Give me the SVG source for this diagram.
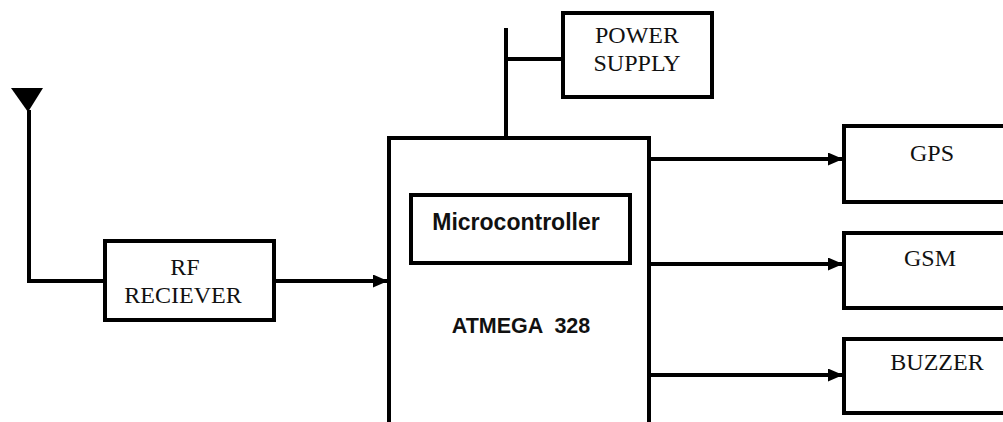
<svg xmlns="http://www.w3.org/2000/svg" width="1003" height="422" viewBox="0 0 1003 422">
<style>
.box{fill:#fff;stroke:#000;stroke-width:4}
.ln{fill:none;stroke:#000;stroke-width:4}
.serif{font-family:"Liberation Serif","Times New Roman",serif;font-size:24px;fill:#111;text-anchor:middle}
.sans{font-family:"Liberation Sans",Arial,sans-serif;font-weight:bold;fill:#111;text-anchor:middle}
</style>
<defs>
<marker id="arr" viewBox="0 0 15 13" refX="15" refY="6.5" markerWidth="15" markerHeight="13" markerUnits="userSpaceOnUse" orient="auto">
<path d="M0,0 L15,6.5 L0,13 Z" fill="#000"/>
</marker>
</defs>
<rect width="1003" height="422" fill="#fff"/>
<g id="connectors">
<polyline class="ln" points="29,110 29,281 105,281"/>
<line class="ln" x1="275" y1="281" x2="388" y2="281" marker-end="url(#arr)"/>
<line class="ln" x1="506" y1="28" x2="506" y2="137"/>
<line class="ln" x1="506" y1="59" x2="561" y2="59"/>
<line class="ln" x1="650" y1="159" x2="843" y2="159" marker-end="url(#arr)"/>
<line class="ln" x1="650" y1="264" x2="843" y2="264" marker-end="url(#arr)"/>
<line class="ln" x1="650" y1="375" x2="843" y2="375" marker-end="url(#arr)"/>
</g>
<g id="antenna">
<polygon points="11,88 43,88 28,112" fill="#000"/>
</g>
<g id="rf">
<rect class="box" x="105" y="241" width="169" height="79"/>
<text class="serif" x="185" y="275">RF</text>
<text class="serif" x="183" y="303">RECIEVER</text>
</g>
<g id="atmega">
<rect class="box" x="389" y="138" width="260" height="300"/>
<text class="sans" x="521" y="333" font-size="21.5" style="white-space:pre">ATMEGA  328</text>
</g>
<g id="microcontroller">
<rect class="box" x="411" y="195" width="219" height="68"/>
<text class="sans" x="516" y="230" font-size="23">Microcontroller</text>
</g>
<g id="power">
<rect class="box" x="563" y="13" width="149" height="84"/>
<text class="serif" x="637" y="43">POWER</text>
<text class="serif" x="637" y="71">SUPPLY</text>
</g>
<g id="gps">
<rect class="box" x="844" y="126" width="170" height="76"/>
<text class="serif" x="932" y="161">GPS</text>
</g>
<g id="gsm">
<rect class="box" x="844" y="233" width="170" height="75"/>
<text class="serif" x="930" y="266">GSM</text>
</g>
<g id="buzzer">
<rect class="box" x="844" y="339" width="170" height="74"/>
<text class="serif" x="937" y="370">BUZZER</text>
</g>
</svg>
